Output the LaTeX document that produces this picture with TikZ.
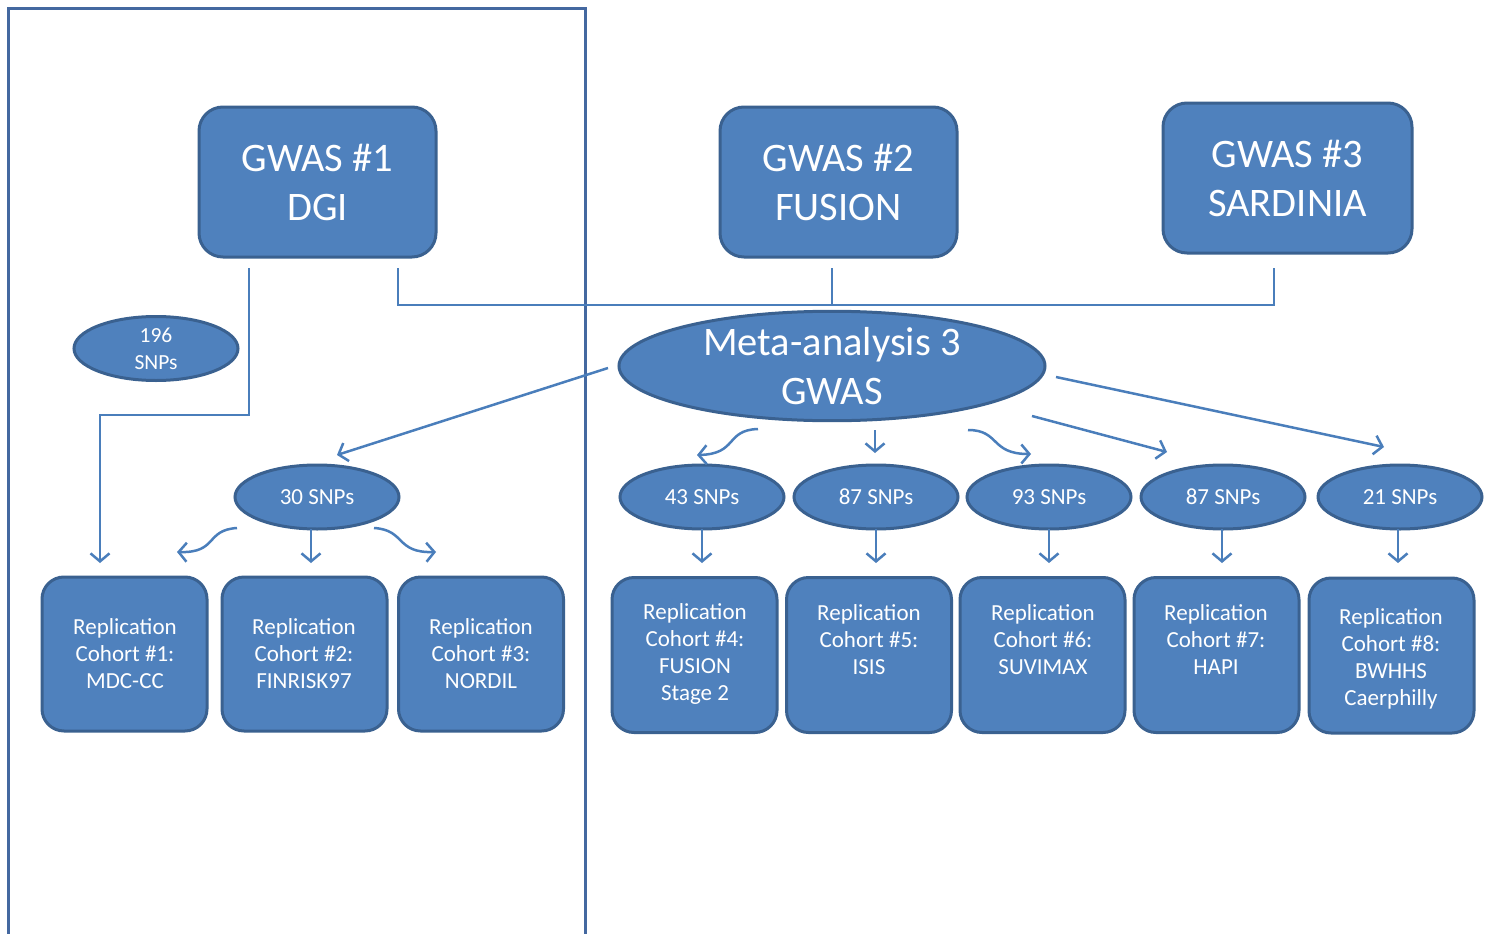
\documentclass[tikz,border=0pt]{standalone}
\usepackage{fontspec}
\setmainfont{Carlito}
\usetikzlibrary{arrows.meta,shapes.geometric,calc}
\definecolor{fillb}{HTML}{4F81BD}
\definecolor{edgeb}{HTML}{3A6190}
\definecolor{lineb}{HTML}{4A7EBB}
\definecolor{frameb}{HTML}{4468A0}
\begin{document}
\begin{tikzpicture}[x=1pt,y=-1pt,
 gbox/.style={rectangle,rounded corners=24pt,fill=fillb,draw=edgeb,line width=3pt,minimum width=237pt,minimum height=150pt,text=white,align=center,font=\fontsize{40.5}{49}\selectfont},
 rbox/.style={rectangle,rounded corners=22pt,fill=fillb,draw=edgeb,line width=3pt,minimum width=165pt,minimum height=155pt},
 snp/.style={ellipse,fill=fillb,draw=edgeb,line width=3pt,minimum width=164pt,minimum height=64pt,inner sep=0pt,text=white,font=\fontsize{23}{27}\selectfont},
 rtext/.style={text=white,align=center,inner sep=0pt,font=\fontsize{23}{27}\selectfont},
 conn/.style={draw=lineb,line width=2.5pt},
 arr/.style={conn,-{Straight Barb[length=8pt,width=19pt]}},
]
\useasboundingbox (0,0) rectangle (1497,934);
\fill[white] (0,0) rectangle (1497,934);
% frame
\coordinate (fbl) at (8,934); \coordinate (ftl) at (8,9);
\coordinate (ftr) at (585,9); \coordinate (fbr) at (585,934);
\draw[frameb,line width=3pt] (fbl) -- (ftl) -- (ftr) -- (fbr);

% GWAS boxes
\node[gbox] (g1) at (317.5,182) {GWAS \#1\\DGI};
\node[gbox] (g2) at (838.5,182) {GWAS \#2\\FUSION};
\node[gbox,minimum width=249pt] (g3) at (1287.5,178) {GWAS \#3\\SARDINIA};

% meta ellipse
\node[snp,minimum width=426pt,minimum height=102pt,font=\fontsize{40.5}{49}\selectfont,align=center] (meta) at (832,366) {Meta-analysis 3\\GWAS};
\node[snp,align=center,font=\fontsize{21.5}{27}\selectfont] (s196) at (156,348.5) {196\\SNPs};

% SNP ellipses
\node[snp] (s30) at (317,497) {30 SNPs};
\node[snp] (s43) at (702,497) {43 SNPs};
\node[snp] (s87a) at (876,497) {87 SNPs};
\node[snp] (s93) at (1049,497) {93 SNPs};
\node[snp] (s87b) at (1223,497) {87 SNPs};
\node[snp] (s21) at (1400,497) {21 SNPs};

% replication boxes
\node[rbox,minimum height=154pt] (r1) at (124.5,654) {};
\node[rbox,minimum height=154pt] (r2) at (304.5,654) {};
\node[rbox,minimum height=154pt] (r3) at (481,654) {};
\node[rbox] (r4) at (694.5,655) {};
\node[rbox] (r5) at (869,655) {};
\node[rbox] (r6) at (1042.5,655) {};
\node[rbox] (r7) at (1216.5,655) {};
\node[rbox] (r8) at (1391.5,655.5) {};

\node[rtext] (t1) at (125,654) {Replication\\Cohort \#1:\\MDC-CC};
\node[rtext] (t2) at (304,654) {Replication\\Cohort \#2:\\FINRISK97};
\node[rtext] (t3) at (481,654) {Replication\\Cohort \#3:\\NORDIL};
\node[rtext] (t4) at (695,654) {Replication\\Cohort \#4:\\FUSION\\Stage 2};
\node[rtext] (t5) at (869,640) {Replication\\Cohort \#5:\\ISIS};
\node[rtext] (t6) at (1043,640) {Replication\\Cohort \#6:\\SUVIMAX};
\node[rtext] (t7) at (1216,640) {Replication\\Cohort \#7:\\HAPI};
\node[rtext] (t8) at (1391,659) {Replication\\Cohort \#8:\\BWHHS\\Caerphilly};

% connectors from GWAS boxes to meta
\coordinate (c1a) at (398,268); \coordinate (c1b) at (398,305);
\coordinate (c2a) at (832,268); \coordinate (c2b) at (832,305);
\coordinate (c3a) at (1274,268); \coordinate (c3b) at (1274,305);
\draw[conn] (c1a) -- (c1b) -- (c3b) -- (c3a);
\draw[conn] (c2a) -- (c2b);

% GWAS1 to replication 1
\coordinate (d1) at (249,268); \coordinate (d2) at (249,415);
\coordinate (d3) at (100,415); \coordinate (d4) at (100,563);
\draw[arr] (d1) -- (d2) -- (d3) -- (d4);

% meta to SNP groups
\coordinate (m1s) at (608,368); \coordinate (m1e) at (337,455);
\draw[arr] (m1s) -- (m1e);
\coordinate (m2s) at (758,429); \coordinate (m2e) at (697,455);
\draw[arr] (m2s) .. controls (725,430) and (738,454) .. (m2e);
\coordinate (m3s) at (875,430); \coordinate (m3e) at (875,453);
\draw[arr] (m3s) -- (m3e);
\coordinate (m4s) at (968,430); \coordinate (m4e) at (1031,454);
\draw[arr] (m4s) .. controls (1000,430) and (990,454) .. (m4e);
\coordinate (m5s) at (1032,416); \coordinate (m5e) at (1167,452);
\draw[arr] (m5s) -- (m5e);
\coordinate (m6s) at (1056,377); \coordinate (m6e) at (1384,447);
\draw[arr] (m6s) -- (m6e);

% 30 SNPs to replications
\coordinate (p1s) at (237,528); \coordinate (p1e) at (177,552);
\draw[arr] (p1s) .. controls (205,530) and (218,553) .. (p1e);
\coordinate (p2s) at (311,529); \coordinate (p2e) at (311,563);
\draw[arr] (p2s) -- (p2e);
\coordinate (p3s) at (374,528); \coordinate (p3e) at (436,552);
\draw[arr] (p3s) .. controls (406,530) and (395,553) .. (p3e);

% SNP ellipses to replication boxes
\foreach \s/\x in {s43/702,s87a/876,s93/1049,s87b/1222,s21/1398}{
  \draw[arr] (\x,529) -- (\x,563);
}
\end{tikzpicture}
\end{document}
